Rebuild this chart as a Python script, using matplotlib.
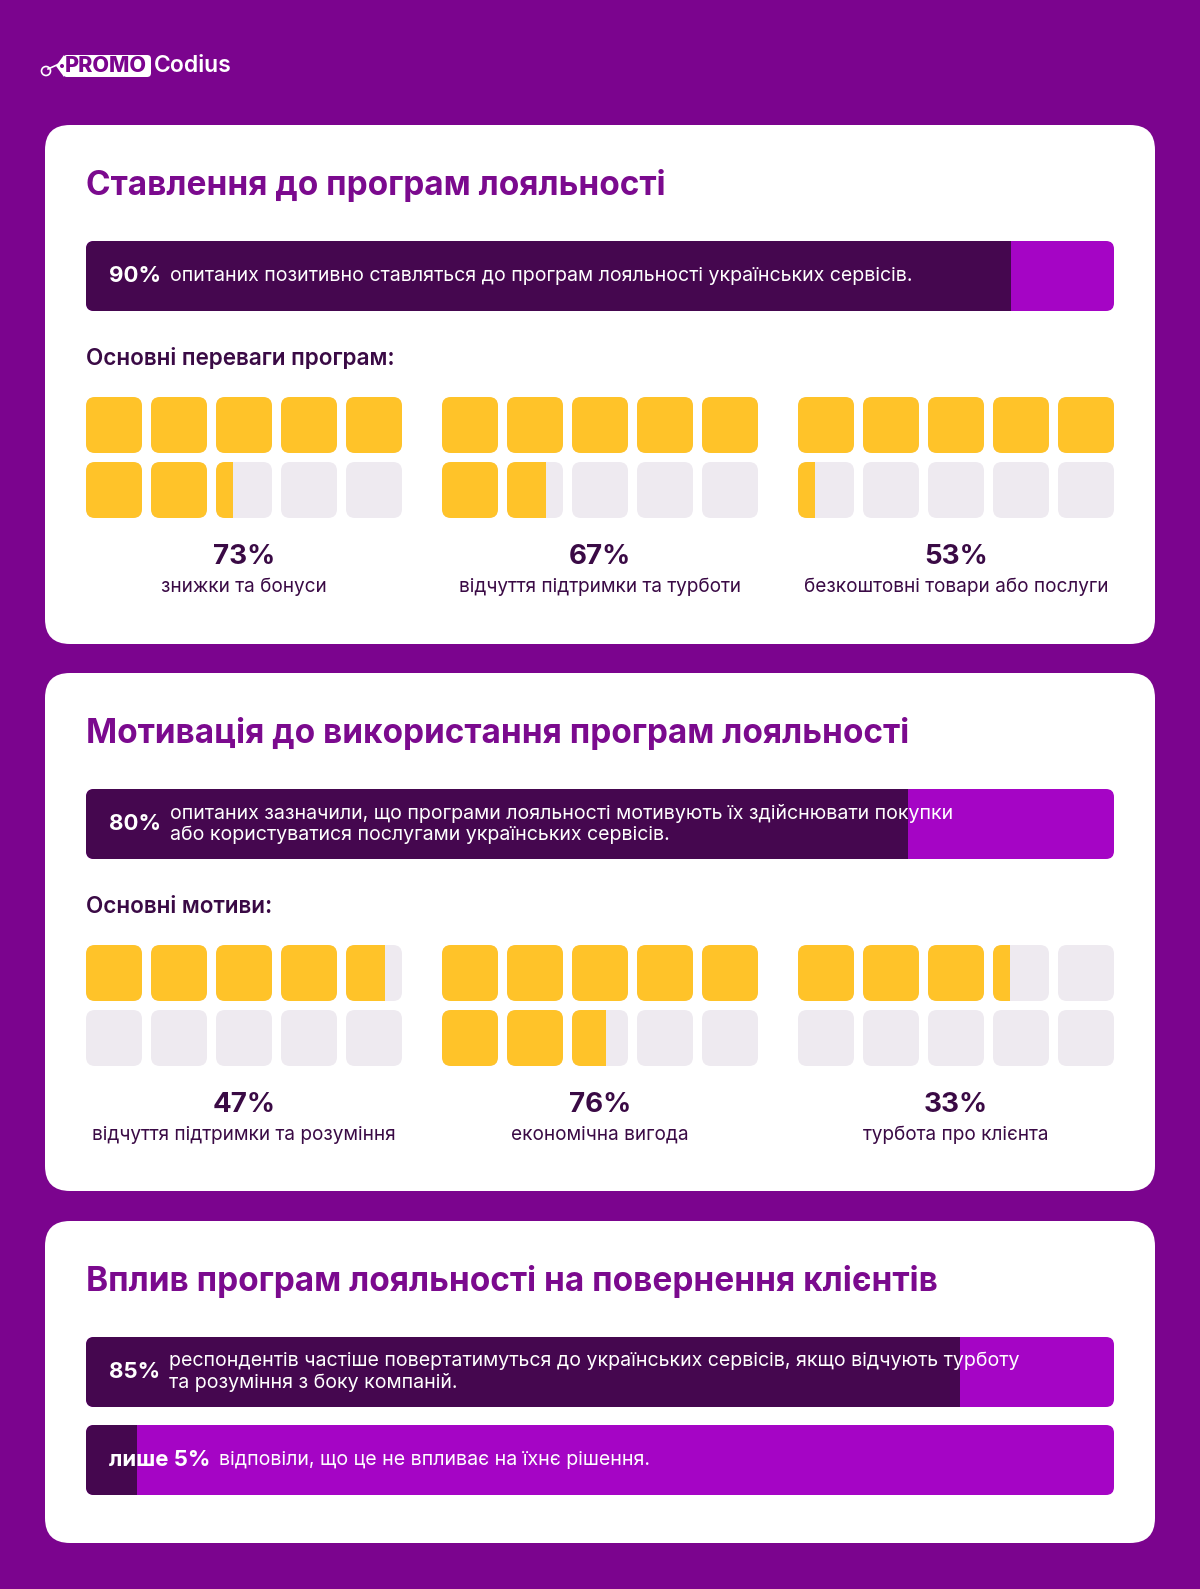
import matplotlib
matplotlib.use('Agg')
import matplotlib.pyplot as plt
from matplotlib.patches import FancyBboxPatch, Rectangle, Polygon, Circle

plt.rcParams['font.family'] = ['Inter', 'DejaVu Sans']

# data
section_titles = ['Ставлення до програм лояльності',
                  'Мотивація до використання програм лояльності',
                  'Вплив програм лояльності на повернення клієнтів']
headline_pcts = [90, 80, 85, 5]
headline_bold = ['90%', '80%', '85%', 'лише 5%']
headline_texts = [
    'опитаних позитивно ставляться до програм лояльності українських сервісів.',
    'опитаних зазначили, що програми лояльності мотивують їх здійснювати покупки\n'
    'або користуватися послугами українських сервісів.',
    'респондентів частіше повертатимуться до українських сервісів, якщо відчують турботу\n'
    'та розуміння з боку компаній.',
    'відповіли, що це не впливає на їхнє рішення.',
]
sub_headers = ['Основні переваги програм:', 'Основні мотиви:']
advantages = ['знижки та бонуси', 'відчуття підтримки та турботи', 'безкоштовні товари або послуги']
advantages_pct = [73, 67, 53]
motives = ['відчуття підтримки та розуміння', 'економічна вигода', 'турбота про клієнта']
motives_pct = [47, 76, 33]

BG = '#7B048E'
TITLE = '#7B0A8E'
DARK = '#45074F'
BRIGHT = '#A505C5'
YELLOW = '#FFC329'
GREY = '#EEEAF0'
TXT = '#3A0A45'

W, H = 1200, 1589
fig = plt.figure(figsize=(12, 15.89), dpi=100)
fig.patch.set_facecolor(BG)
ax = fig.add_axes([0, 0, 1, 1])
ax.set_xlim(0, W)
ax.set_ylim(H, 0)
ax.axis('off')
renderer = fig.canvas.get_renderer()

X0, X1 = 86, 1114


def rbox(x, y, w, h, r, color, z=1, clipw=None):
    p = FancyBboxPatch((x, y), w, h, boxstyle=f'round,pad=0,rounding_size={r}',
                       fc=color, ec='none', zorder=z)
    ax.add_patch(p)
    if clipw is not None:
        c = Rectangle((x, y), clipw, h, transform=ax.transData)
        p.set_clip_path(c)
    return p


def hbar(y, pct, bold, text):
    w = X1 - X0
    rbox(X0, y, w, 70, 8, BRIGHT, 2)
    rbox(X0, y, w, 70, 8, DARK, 3, clipw=w * pct / 100)
    t = ax.text(109, y + 35, bold, color='white', fontsize=16, fontweight='bold',
                va='center', ha='left', zorder=4)
    bb = t.get_window_extent(renderer).transformed(ax.transData.inverted())
    ax.text(bb.x1 + 9, y + 35, text, color='white', fontsize=14.1, va='center',
            ha='left', linespacing=1.22, zorder=4)


def waffle(x, y, pct, label):
    for i in range(10):
        r, c = divmod(i, 5)
        sx = x + c * 65
        sy = y + r * 65
        rbox(sx, sy, 56, 56, 9, GREY, 2)
        f = min(max(pct / 10 - i, 0), 1)
        if f > 0:
            rbox(sx, sy, 56, 56, 9, YELLOW, 3, clipw=56 * f)
    cx = x + 158
    ax.text(cx, y + 160, f'{pct}%', color=TXT, fontsize=20, fontweight='bold',
            ha='center', va='center')
    ax.text(cx, y + 190, label, color=TXT, fontsize=13.7, ha='center', va='center')


# logo
ax.add_patch(Polygon([(56, 66), (64, 55), (64, 77)], closed=True, fc='white', ec='none'))
rbox(63, 55, 88, 22, 4, 'white', 2)
ax.add_patch(Circle((46, 71), 4.5, fc='none', ec='white', lw=1.2, zorder=3))
ax.plot([48, 59], [69, 64], color='white', lw=1.2, zorder=3)
ax.add_patch(Circle((62, 66), 2, fc=BG, ec='none', zorder=3))
ax.text(106, 66.5, 'PROMO', color=BG, fontsize=15.5, fontweight='heavy', ha='center',
        va='center', zorder=4)
ax.text(154, 66.5, 'Codius', color='white', fontsize=16.5, fontweight='semibold',
        ha='left', va='center', zorder=4)

# cards
card_tops = [125, 673, 1221]
card_bottoms = [644, 1191, 1543]
for top, bot in zip(card_tops, card_bottoms):
    rbox(45, top, 1110, bot - top, 25, 'white', 1)

for top, title in zip(card_tops, section_titles):
    ax.text(86, top + 61, title, color=TITLE, fontsize=24, fontweight='bold',
            ha='left', va='center')

hbar(card_tops[0] + 116, headline_pcts[0], headline_bold[0], headline_texts[0])
hbar(card_tops[1] + 116, headline_pcts[1], headline_bold[1], headline_texts[1])
hbar(card_tops[2] + 116, headline_pcts[2], headline_bold[2], headline_texts[2])
hbar(card_tops[2] + 204, headline_pcts[3], headline_bold[3], headline_texts[3])

group_x = [86, 442, 798]
for top, sub, labels, pcts in [(card_tops[0], sub_headers[0], advantages, advantages_pct),
                               (card_tops[1], sub_headers[1], motives, motives_pct)]:
    ax.text(86, top + 234, sub, color=TXT, fontsize=16.2, fontweight='semibold',
            ha='left', va='center')
    for gx, lab, p in zip(group_x, labels, pcts):
        waffle(gx, top + 272, p, lab)

fig.savefig('out.png', dpi=100, facecolor=BG)
